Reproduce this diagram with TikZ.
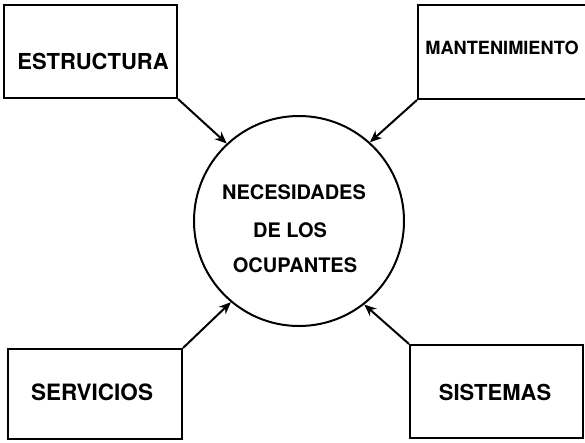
\documentclass[tikz,border=0pt]{standalone}
\usepackage{fontspec}
\setmainfont{TeX Gyre Heros}
\usetikzlibrary{arrows.meta}
\begin{document}
\begin{tikzpicture}[x=1pt,y=-1pt,
  boxnode/.style={draw=black,line width=2pt,rectangle,inner sep=0pt},
  lbl/.style={inner sep=0pt,font=\bfseries},
  conn/.style={draw=black,line width=2pt,-{Stealth[length=12pt,width=10pt]}}]
\clip (0,0) rectangle (585,442);
\fill[white] (0,0) rectangle (585,442);
% boxes
\node[boxnode,minimum width=173pt,minimum height=93pt] (est) at (90.5,51.5) {};
\node[boxnode,minimum width=182pt,minimum height=94pt] (man) at (509,52) {};
\node[boxnode,minimum width=174pt,minimum height=90pt] (ser) at (95,394) {};
\node[boxnode,minimum width=173pt,minimum height=93pt] (sis) at (496.5,391.5) {};
% circle
\node[draw=black,line width=2pt,circle,minimum size=210pt,inner sep=0pt] (c) at (299,221) {};
% labels
\node[lbl,font=\fontsize{22}{24}\selectfont\bfseries] (testr) at (93,61) {ESTRUCTURA};
\node[lbl,font=\fontsize{18.2}{20}\selectfont\bfseries] (tman) at (502,48) {MANTENIMIENTO};
\node[lbl,font=\fontsize{22.5}{24}\selectfont\bfseries] (tser) at (92,392) {SERVICIOS};
\node[lbl,font=\fontsize{22}{24}\selectfont\bfseries] (tsis) at (495,392) {SISTEMAS};
\node[lbl,font=\fontsize{20}{22}\selectfont\bfseries] (t1) at (294,192) {NECESIDADES};
\node[lbl,font=\fontsize{20}{22}\selectfont\bfseries] (t2) at (290,230) {DE LOS};
\node[lbl,font=\fontsize{20}{22}\selectfont\bfseries] (t3) at (295,265) {OCUPANTES};
% connectors
\draw[conn] (est.south east) -- (c.133);
\draw[conn] (man.south west) -- (c.48);
\draw[conn] (ser.north east) -- (c.230);
\draw[conn] (sis.north west) -- (c.308);
\end{tikzpicture}
\end{document}
